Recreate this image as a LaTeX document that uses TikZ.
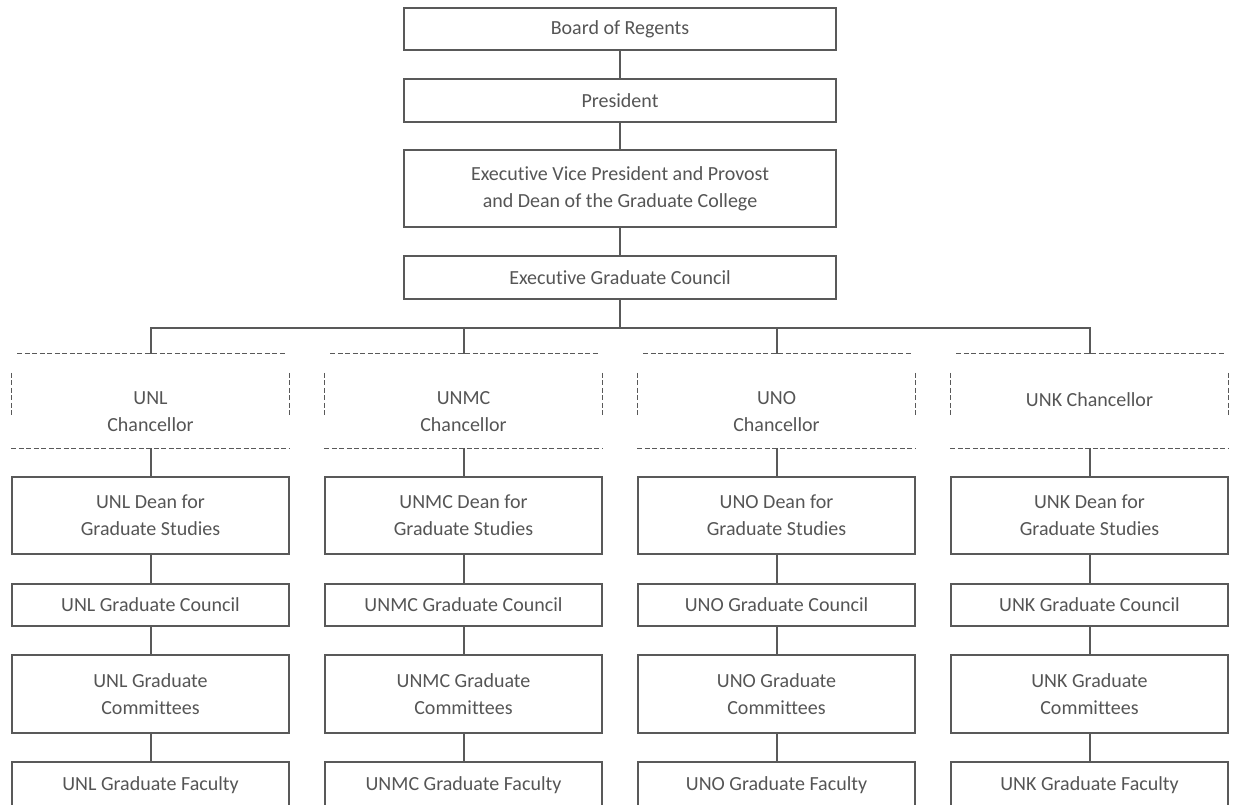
\documentclass[tikz,border=0pt]{standalone}
\usepackage{fontspec}
\setmainfont{Carlito}[Ligatures=NoCommon]
\definecolor{ln}{HTML}{595959}
\definecolor{tx}{HTML}{555555}
\begin{document}
\begin{tikzpicture}[x=1pt,y=-1pt,
  base/.style={inner sep=0pt,align=center,text=tx,font=\fontsize{20}{27}\selectfont},
  topbox/.style={base,draw=ln,line width=2pt,minimum width=432pt},
  colbox/.style={base,draw=ln,line width=2pt,minimum width=277pt},
  chframe/.style={inner sep=0pt,minimum width=278pt,minimum height=94pt},
  chtext/.style={base},
  conn/.style={draw=ln,line width=2pt},
  dashline/.style={draw=ln,line width=1pt,dash pattern=on 5pt off 2.5pt}]
\useasboundingbox (0,0) rectangle (1235,804);
\node[topbox,minimum height=42pt] (bor) at (620,29) {Board of Regents};
\node[topbox,minimum height=43pt] (pres) at (620,100.5) {President};
\node[topbox,minimum height=77pt] (evp) at (620,188.5) {Executive Vice President and Provost\\and Dean of the Graduate College};
\node[topbox,minimum height=43pt] (egc) at (620,277.5) {Executive Graduate Council};
\draw[conn] (bor) -- (pres);
\draw[conn] (pres) -- (evp);
\draw[conn] (evp) -- (egc);
\foreach \n/\N/\cx/\ty/\ch in {unl/UNL/150.5/412/{UNL\\Chancellor},unmc/UNMC/463.5/412/{UNMC\\Chancellor},uno/UNO/776.5/412/{UNO\\Chancellor},unk/UNK/1089.5/400/{UNK Chancellor}}{
  \node[chframe] (\n c) at (\cx,401) {};
  \node[chtext] (\n ct) at (\cx,\ty) {\ch};
  \draw[dashline] ([xshift=6pt]\n c.north west) -- ([xshift=-4pt]\n c.north east);
  \draw[dashline] (\n c.south west) -- (\n c.south east);
  \draw[dashline] ([yshift=-19pt]\n c.north west) -- ([yshift=31pt]\n c.south west);
  \draw[dashline] ([yshift=-19pt]\n c.north east) -- ([yshift=31pt]\n c.south east);
  \draw[conn] (egc.south) -- ++(0,27.5) -| (\n c.north);
  \node[colbox,minimum height=77pt] (\n d) at (\cx,515.5) {\N\ Dean for\\Graduate Studies};
  \node[colbox,minimum height=42pt] (\n g) at (\cx,605) {\N\ Graduate Council};
  \node[colbox,minimum height=78pt] (\n m) at (\cx,694) {\N\ Graduate\\Committees};
  \node[colbox,minimum height=44pt,text depth=0pt] (\n f) at (\cx,784) {\N\ Graduate Faculty};
  \draw[conn] (\n c.south) -- (\n d.north);
  \draw[conn] (\n d) -- (\n g);
  \draw[conn] (\n g) -- (\n m);
  \draw[conn] (\n m) -- (\n f);
}
\end{tikzpicture}
\end{document}
